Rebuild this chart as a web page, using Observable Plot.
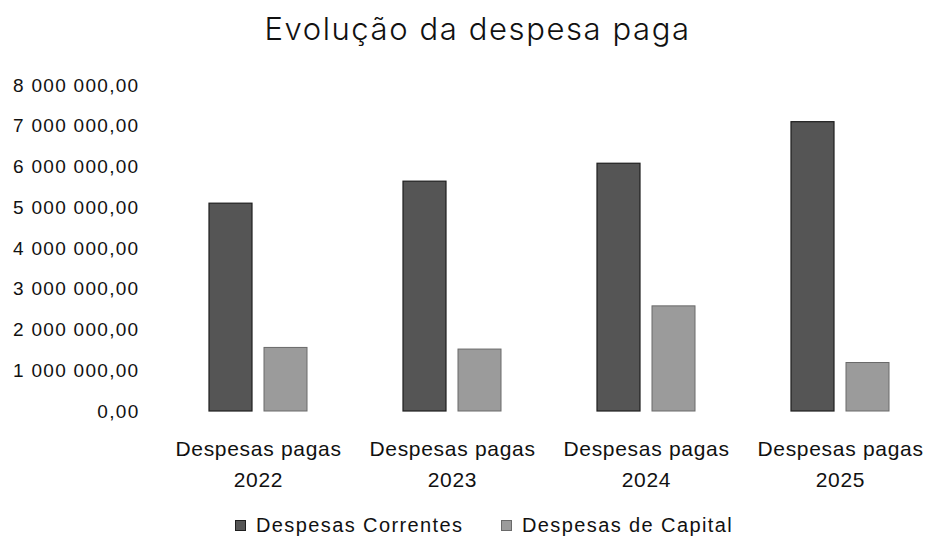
<!DOCTYPE html>
<html>
<head>
<meta charset="utf-8">
<script src="https://cdn.jsdelivr.net/npm/d3@7"></script>
<script src="https://cdn.jsdelivr.net/npm/@observablehq/plot@0.6"></script>
<style>
  html, body { margin: 0; padding: 0; background: #fff; }
  body { width: 927px; height: 536px; position: relative; overflow: hidden; font-family: "Liberation Sans", Arial, sans-serif; }
  #title { position: absolute; left: 14px; top: 10px; width: 927px; text-align: center; font-family: Inter, "Open Sans", sans-serif; font-weight: 300; font-size: 31px; letter-spacing: 1.6px; line-height: 38px; color: #111; }
  #chart { position: absolute; left: 0; top: 70px; }
  #chart g[aria-label="y-axis tick label"] text { letter-spacing: 1.3px; }
  #chart g[aria-label="fx-axis tick label"] text { letter-spacing: 0.7px; }
  #legend { position: absolute; left: 0; top: 514px; width: 927px; height: 22px; font-size: 20px; letter-spacing: 1.4px; color: #111; }
  .item { position: absolute; top: 0; display: flex; align-items: center; height: 22px; white-space: nowrap; }
  .sw { display: inline-block; width: 11px; height: 11px; margin-right: 10px; box-sizing: border-box; }
</style>
</head>
<body>
<div id="title">Evolução da despesa paga</div>
<div id="chart"></div>
<div id="legend"></div>
<script>
const groups = ["Despesas pagas\n2022", "Despesas pagas\n2023", "Despesas pagas\n2024", "Despesas pagas\n2025"];
const series = ["Despesas Correntes", "Despesas de Capital"];
const correntes = [5100000, 5640000, 6080000, 7100000];
const capital = [1560000, 1520000, 2580000, 1190000];
const yTicks = [0, 1000000, 2000000, 3000000, 4000000, 5000000, 6000000, 7000000, 8000000];
const fills = ["#555555", "#9b9b9b"];
const strokes = ["#1e1e1e", "#6a6a6a"];

const rows = [];
groups.forEach((g, i) => {
  rows.push({group: g, series: series[0], value: correntes[i]});
  rows.push({group: g, series: series[1], value: capital[i]});
});

const pt = d3.formatLocale({decimal: ",", thousands: "\u00a0", grouping: [3], currency: ["", ""]});
const fmt = pt.format(",.2f");

const chart = Plot.plot({
  width: 927,
  height: 430,
  marginLeft: 160,
  marginRight: 0,
  marginTop: 15,
  marginBottom: 89,
  style: {fontFamily: "'Liberation Sans', Arial, sans-serif", fontSize: "18px", color: "#111", background: "#fff", overflow: "visible"},
  fx: {domain: groups, range: [160.4, 937], padding: 0, label: null},
  x: {domain: series, paddingInner: 0.214, paddingOuter: 0.841, axis: null},
  y: {domain: [0, 8000000], label: null},
  marks: [
    Plot.axisY(yTicks, {tickSize: 0, tickPadding: 22, tickFormat: fmt, fontSize: 19, label: null}),
    Plot.axisFx({anchor: "bottom", tickSize: 0, tickPadding: 22, fontSize: 21, lineHeight: 1.48, label: null}),
    Plot.barY(rows.filter(d => d.series === series[0]), {fx: "group", x: "series", y: "value", fill: fills[0], stroke: strokes[0], strokeWidth: 1.2}),
    Plot.barY(rows.filter(d => d.series === series[1]), {fx: "group", x: "series", y: "value", fill: fills[1], stroke: strokes[1], strokeWidth: 1})
  ]
});
document.getElementById("chart").appendChild(chart);

const legend = document.getElementById("legend");
const lefts = [235, 501];
series.forEach((s, i) => {
  const it = document.createElement("div");
  it.className = "item";
  it.style.left = lefts[i] + "px";
  const sw = document.createElement("span");
  sw.className = "sw";
  sw.style.background = fills[i];
  sw.style.border = "1px solid " + strokes[i];
  it.appendChild(sw);
  it.appendChild(document.createTextNode(s));
  legend.appendChild(it);
});
</script>
</body>
</html>
